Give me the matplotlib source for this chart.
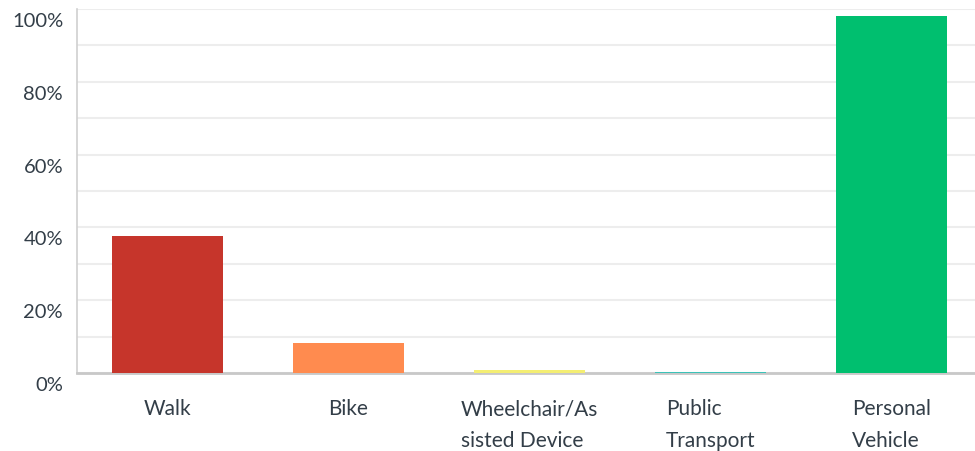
import matplotlib.pyplot as plt
from matplotlib.ticker import MultipleLocator, PercentFormatter
from matplotlib.transforms import ScaledTranslation

categories = ["Walk", "Bike", "Wheelchair/As\nsisted Device", "Public\nTransport", "Personal\nVehicle"]
values = [37.6, 8.2, 0.8, 0.3, 98.1]
colors = ["#C6352B", "#FF8B4F", "#F4EE72", "#3CC2B8", "#00BF6F"]

plt.rcParams["font.family"] = ["Lato", "DejaVu Sans"]
text_color = "#333E48"

fig = plt.figure(figsize=(9.75, 4.51), dpi=100)
ax = fig.add_axes([77 / 975, 78 / 451, 905 / 975, 364 / 451])

x = range(len(categories))
ax.bar(x, values, width=0.61, color=colors, zorder=3)

ax.set_xlim(-0.5, len(categories) - 0.5)
ax.set_ylim(0, 100)
ax.yaxis.set_major_locator(MultipleLocator(20))
ax.yaxis.set_minor_locator(MultipleLocator(10))
ax.yaxis.set_major_formatter(PercentFormatter(decimals=0))
ax.grid(axis="y", which="both", color="#EDEDED", linewidth=1.5, zorder=0)

ax.set_xticks(list(x))
ax.set_xticklabels(categories, multialignment="left", linespacing=1.75)
ax.tick_params(axis="x", length=0, pad=19, labelsize=15, labelcolor=text_color)
ax.tick_params(axis="y", which="both", length=0, pad=10, labelsize=14.5, labelcolor=text_color)
shift = ScaledTranslation(0, -0.04, fig.dpi_scale_trans)
for lbl in ax.get_yticklabels():
    lbl.set_verticalalignment("top")
    lbl.set_transform(lbl.get_transform() + shift)

for side in ["top", "right"]:
    ax.spines[side].set_visible(False)
ax.spines["left"].set_color("#D0D0D0")
ax.spines["left"].set_linewidth(1.2)
ax.spines["bottom"].set_color("#C8C8C8")
ax.spines["bottom"].set_linewidth(2)

fig.savefig("out.png", dpi=100)
